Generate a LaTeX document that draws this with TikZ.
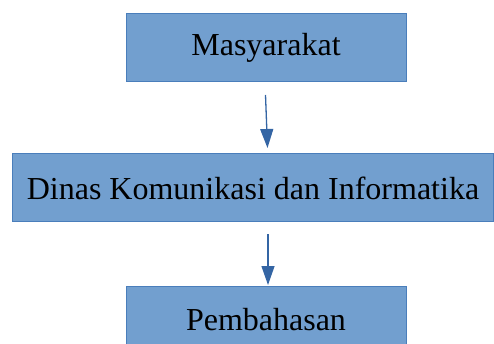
\documentclass[tikz,border=0pt]{standalone}
\usepackage{fontspec}
\setmainfont{Liberation Serif}
\usetikzlibrary{arrows.meta,positioning}

\definecolor{boxfill}{HTML}{729FCF}
\definecolor{boxline}{HTML}{4A7EBB}
\definecolor{arrowblue}{HTML}{3465A4}

\tikzset{
  stage/.style={draw=boxline,line width=1pt,fill=boxfill,minimum height=68pt,
    inner sep=0pt,font=\fontsize{32}{38}\selectfont},
  flow/.style={-{Triangle[length=19pt,width=13pt]},line width=1.3pt,arrowblue}
}

\begin{document}
\begin{tikzpicture}[x=1pt,y=-1pt]
  \useasboundingbox (0,0) rectangle (494,344);
  \clip (0,0) rectangle (494,344);

  % Stages
  \node[stage,minimum width=280pt] (masy) at (266,48) {Masyarakat};
  \node[stage,minimum width=481pt] (dinas) at (253,188) {Dinas Komunikasi dan Informatika};
  \node[stage,minimum width=280pt] (bahas) at (266,320) {Pembahasan};

  % Arrows between stages
  \coordinate (a1s) at (265.5,95);
  \coordinate (a1e) at (267.5,148);
  \coordinate (a2s) at (268,234);
  \coordinate (a2e) at (268,285);
  \draw[flow] (a1s) -- (a1e);
  \draw[flow] (a2s) -- (a2e);
\end{tikzpicture}
\end{document}
